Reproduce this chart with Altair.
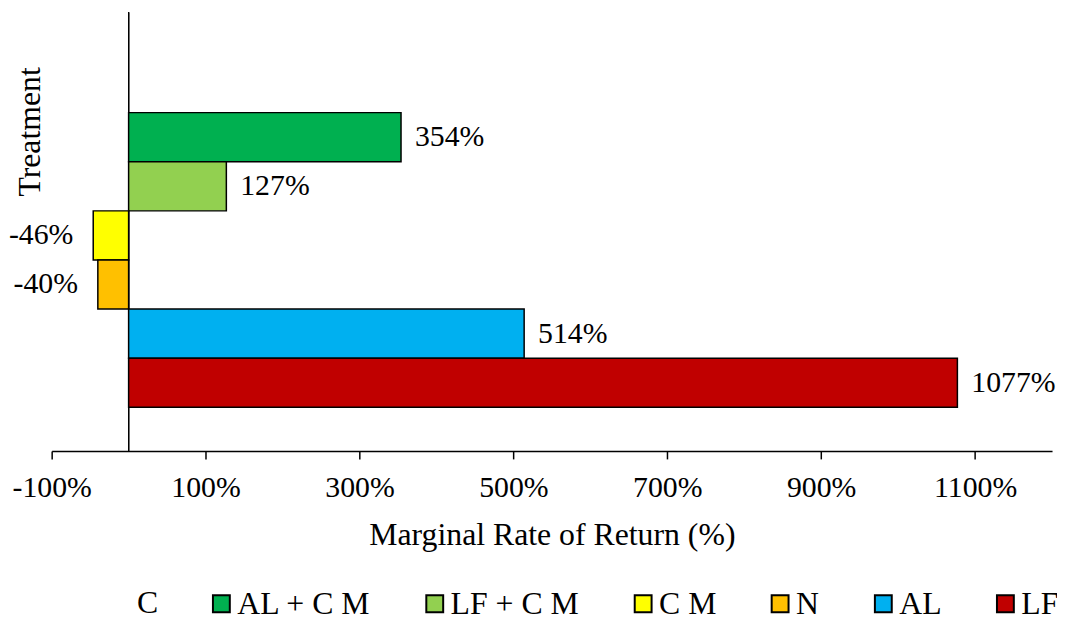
import altair as alt
import pandas as pd

treatments = ["C", "AL + C M", "LF + C M", "C M", "N", "AL", "LF"]
mrr = [0, 354, 127, -46, -40, 514, 1077]
labels = ["", "354%", "127%", "-46%", "-40%", "514%", "1077%"]
fills = ["white", "#00B050", "#92D050", "#FFFF00", "#FFC000", "#00B0F0", "#C00000"]
strokes = ["transparent", "black", "black", "black", "black", "black", "black"]
x_ticks = [-100, 100, 300, 500, 700, 900, 1100]

df = pd.DataFrame({"Treatment": treatments, "MRR": mrr, "Label": labels})

FONT = "Liberation Serif"
FS_TICK = 30
FS_TITLE = 32
FS_LEG = 32

x_enc = alt.X(
    "MRR:Q",
    scale=alt.Scale(domain=[-100, 1200], nice=False, zero=False),
    axis=alt.Axis(
        values=x_ticks, labelExpr="datum.value + '%'", grid=False, labelFlush=False,
        tickSize=8, tickColor="black", tickWidth=1.5, domainColor="black", domainWidth=1.5,
        labelFont=FONT, labelFontSize=FS_TICK, labelColor="black", labelPadding=14,
        title="Marginal Rate of Return (%)", titleFont=FONT, titleFontSize=FS_TITLE,
        titleFontWeight="normal", titleColor="black", titlePadding=17,
    ),
)
y_enc = alt.Y(
    "Treatment:N", sort=treatments,
    scale=alt.Scale(paddingInner=0, paddingOuter=0.965, align=0.54),
    axis=alt.Axis(
        title="Treatment", labels=False, ticks=False, domain=False,
        titleX=-22, titleY=120, titleAngle=270, titleAlign="center", titleBaseline="middle",
        titleFont=FONT, titleFontSize=FS_TITLE, titleFontWeight="normal", titleColor="black",
    ),
)

legend = alt.Legend(
    title=None, orient="none", legendX=155, legendY=580, direction="horizontal", columns=6,
    values=treatments[1:],
    padding=0, symbolType="square", symbolSize=289, symbolStrokeWidth=2,
    symbolStrokeColor="black", labelFont=FONT,
    labelFontSize=FS_LEG, labelColor="black", labelOffset=0, columnPadding=48, labelLimit=400,
)

base = alt.Chart(df)

bars = base.mark_bar(stroke="black", strokeWidth=1.5).encode(
    x=x_enc, y=y_enc,
    fill=alt.Fill("Treatment:N", sort=treatments, scale=alt.Scale(domain=treatments, range=fills), legend=legend),
    stroke=alt.Stroke("Treatment:N", sort=treatments, scale=alt.Scale(domain=treatments, range=strokes), legend=None),
)

pos_text = base.transform_filter("datum.MRR > 0").mark_text(
    align="left", baseline="middle", dx=14, font=FONT, fontSize=FS_TICK, color="black"
).encode(x=x_enc, y=y_enc, text="Label:N")

neg_text = base.transform_filter("datum.MRR < 0").mark_text(
    align="right", baseline="middle", dx=-20, font=FONT, fontSize=FS_TICK, color="black"
).encode(x=x_enc, y=y_enc, text="Label:N")

# legend entry for "C" (no visible symbol in the reference)
c_label = alt.Chart(pd.DataFrame({"t": [treatments[0]]})).mark_text(
    align="left", baseline="middle", font=FONT, fontSize=FS_LEG, color="black"
).encode(text="t:N", x=alt.value(86), y=alt.value(595))

zero_rule = alt.Chart(df).mark_rule(color="black", strokeWidth=1).encode(x=alt.datum(0))

chart = alt.layer(zero_rule, bars, pos_text, neg_text, c_label).properties(
    width=1008, height=442,
    autosize=alt.AutoSizeParams(type="none"),
    padding={"left": 44, "top": 2, "right": 5, "bottom": 171},
).configure_view(stroke=None)

chart.save("out.html", embed_options={"renderer": "svg", "actions": False})
